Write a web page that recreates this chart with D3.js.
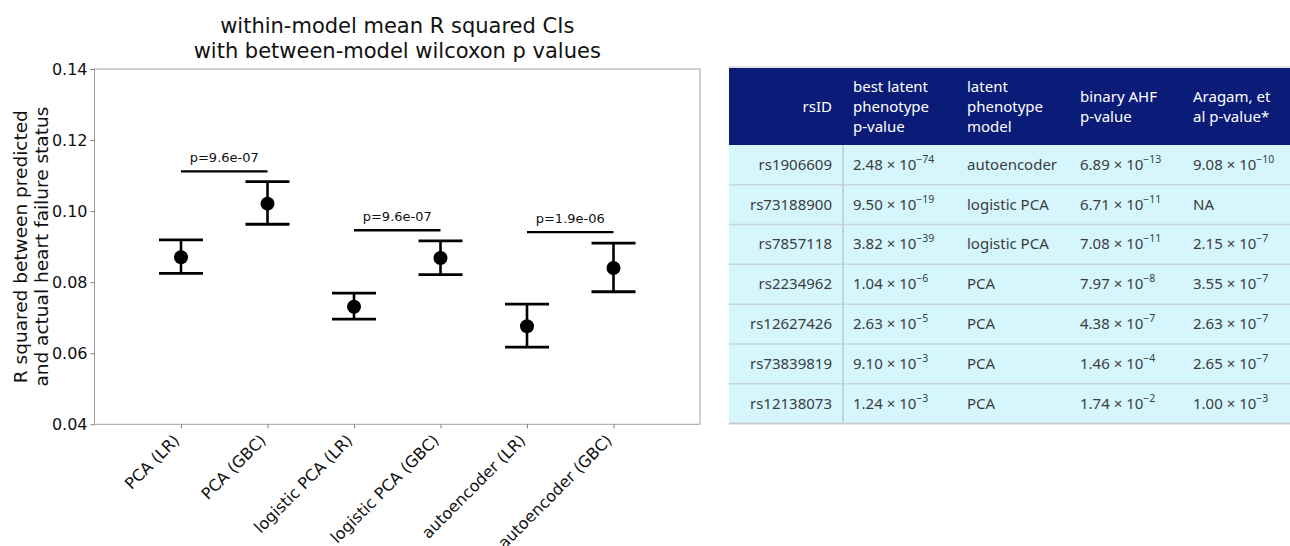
<!DOCTYPE html>
<html>
<head>
<meta charset="utf-8">
<script src="https://cdn.jsdelivr.net/npm/d3@7"></script>
<style>
  body { margin: 0; background: #fff; }
  text { font-family: 'DejaVu Sans', sans-serif; }
  .tbl text { font-family: 'Noto Sans', 'Open Sans', sans-serif; }
</style>
</head>
<body>
<div id="chart"></div>
<script>
var width = 1290
var height = 546

// error bar chart data
var categories = ['PCA (LR)', 'PCA (GBC)', 'logistic PCA (LR)', 'logistic PCA (GBC)', 'autoencoder (LR)', 'autoencoder (GBC)']
var means = [0.0870, 0.1021, 0.0731, 0.0868, 0.0676, 0.0840]
var ciLow = [0.0825, 0.0963, 0.0696, 0.0821, 0.0617, 0.0773]
var ciHigh = [0.0919, 0.1083, 0.0769, 0.0916, 0.0738, 0.0910]
var pairStart = [0, 2, 4]
var pairY = [0.1112, 0.0946, 0.0941]
var pairLabels = ['p=9.6e-07', 'p=9.6e-07', 'p=1.9e-06']
var yTicks = [0.04, 0.06, 0.08, 0.10, 0.12, 0.14]

// table data
var headers = [['rsID'], ['best latent', 'phenotype', 'p-value'], ['latent', 'phenotype', 'model'], ['binary AHF', 'p-value'], ['Aragam, et', 'al p-value*']]
var rsIDs = ['rs1906609', 'rs73188900', 'rs7857118', 'rs2234962', 'rs12627426', 'rs73839819', 'rs12138073']
var latentMant = ['2.48', '9.50', '3.82', '1.04', '2.63', '9.10', '1.24']
var latentExp = [-74, -19, -39, -6, -5, -3, -3]
var models = ['autoencoder', 'logistic PCA', 'logistic PCA', 'PCA', 'PCA', 'PCA', 'PCA']
var ahfMant = ['6.89', '6.71', '7.08', '7.97', '4.38', '1.46', '1.74']
var ahfExp = [-13, -11, -11, -8, -7, -4, -2]
var aragamMant = ['9.08', null, '2.15', '3.55', '2.63', '2.65', '1.00']
var aragamExp = [-10, null, -7, -7, -7, -7, -3]

var svg = d3.select('#chart')
  .append('svg')
  .attr('width', width)
  .attr('height', height)

// ---------- error bar plot ----------
var x = d3.scaleLinear().domain([-1, 6]).range([94.5, 700])
var y = d3.scaleLinear().domain([0.04, 0.14]).range([424.3, 69])

svg.append('rect')
  .attr('x', x(-1)).attr('y', y(0.14))
  .attr('width', x(6) - x(-1)).attr('height', y(0.04) - y(0.14))
  .attr('fill', 'none').attr('stroke', '#a0a0a0').attr('stroke-width', 1)

var yAxis = svg.append('g')
  .attr('transform', 'translate(' + x(-1) + ',0)')
  .call(d3.axisLeft(y).tickValues(yTicks).tickFormat(d3.format('.2f')).tickSize(4))
yAxis.select('.domain').remove()
yAxis.selectAll('line').attr('stroke', '#808080')
yAxis.selectAll('text').attr('font-size', 16).attr('fill', '#111').attr('font-family', 'DejaVu Sans')

var xAxis = svg.append('g')
  .attr('transform', 'translate(0,' + y(0.04) + ')')
  .call(d3.axisBottom(x).tickValues(d3.range(categories.length)).tickFormat(i => categories[i]).tickSize(4))
xAxis.select('.domain').remove()
xAxis.selectAll('line').attr('stroke', '#808080')
xAxis.selectAll('text')
  .attr('font-size', 16).attr('fill', '#111').attr('font-family', 'DejaVu Sans')
  .attr('text-anchor', 'end')
  .attr('y', 0).attr('dy', 0)
  .attr('transform', 'translate(-1,17) rotate(-45)')

// title, centred over the axes
var titleX = (x(-1) + x(6)) / 2
svg.append('text')
  .attr('x', titleX).attr('y', 33)
  .attr('text-anchor', 'middle').attr('font-size', 21).attr('fill', '#111')
  .text('within-model mean R squared CIs')
svg.append('text')
  .attr('x', titleX).attr('y', 58)
  .attr('text-anchor', 'middle').attr('font-size', 21).attr('fill', '#111')
  .text('with between-model wilcoxon p values')

// y label
var ylab = svg.append('text')
  .attr('transform', 'translate(27,' + ((y(0.04) + y(0.14)) / 2) + ') rotate(-90)')
  .attr('text-anchor', 'middle').attr('font-size', 18.5).attr('fill', '#111')
ylab.append('tspan').attr('x', 0).attr('dy', 0).text('R squared between predicted')
ylab.append('tspan').attr('x', 0).attr('dy', '1.15em').text('and actual heart failure status')

// error bars
var bars = svg.append('g').selectAll('g')
  .data(categories)
  .join('g')

bars.append('line')
  .attr('x1', (d, i) => x(i)).attr('x2', (d, i) => x(i))
  .attr('y1', (d, i) => y(ciLow[i])).attr('y2', (d, i) => y(ciHigh[i]))
  .attr('stroke', '#000').attr('stroke-width', 2.6)

bars.selectAll('.cap')
  .data((d, i) => [{ i: i, v: ciLow[i] }, { i: i, v: ciHigh[i] }])
  .join('line')
  .attr('class', 'cap')
  .attr('x1', d => x(d.i) - 22).attr('x2', d => x(d.i) + 22)
  .attr('y1', d => y(d.v)).attr('y2', d => y(d.v))
  .attr('stroke', '#000').attr('stroke-width', 2.8)

bars.append('circle')
  .attr('cx', (d, i) => x(i)).attr('cy', (d, i) => y(means[i]))
  .attr('r', 7).attr('fill', '#000')

// p-value brackets
var brackets = svg.append('g').selectAll('g')
  .data(pairStart)
  .join('g')

brackets.append('line')
  .attr('x1', d => x(d)).attr('x2', d => x(d + 1))
  .attr('y1', (d, i) => y(pairY[i])).attr('y2', (d, i) => y(pairY[i]))
  .attr('stroke', '#000').attr('stroke-width', 2.4)

brackets.append('text')
  .attr('x', d => (x(d) + x(d + 1)) / 2)
  .attr('y', (d, i) => y(pairY[i]) - 9)
  .attr('text-anchor', 'middle').attr('font-size', 13).attr('fill', '#111')
  .text((d, i) => pairLabels[i])

// ---------- table ----------
var tbl = svg.append('g').attr('class', 'tbl')
var tableX0 = 729, tableX1 = 1290
var headTop = 68, headBottom = 145
var colX = [832, 853, 967, 1080, 1193]

var rows = d3.scaleBand().domain(rsIDs).range([headBottom, 423.5])

tbl.append('rect')
  .attr('x', tableX0).attr('y', headTop)
  .attr('width', tableX1 - tableX0).attr('height', headBottom - headTop)
  .attr('fill', '#0b1b78')
tbl.append('line')
  .attr('x1', tableX0).attr('x2', tableX1).attr('y1', headTop - 1).attr('y2', headTop - 1)
  .attr('stroke', '#d8d8d8').attr('stroke-width', 1.5)

tbl.append('rect')
  .attr('x', tableX0).attr('y', headBottom)
  .attr('width', tableX1 - tableX0).attr('height', rows.range()[1] - headBottom)
  .attr('fill', '#d5f6fc')

tbl.selectAll('.sep')
  .data(rsIDs.slice(1))
  .join('line')
  .attr('class', 'sep')
  .attr('x1', tableX0).attr('x2', tableX1)
  .attr('y1', d => rows(d)).attr('y2', d => rows(d))
  .attr('stroke', '#c6d6da').attr('stroke-width', 1.5)

tbl.append('line')
  .attr('x1', tableX0).attr('x2', tableX1)
  .attr('y1', rows.range()[1]).attr('y2', rows.range()[1])
  .attr('stroke', '#c8cccd').attr('stroke-width', 2)

tbl.append('line')
  .attr('x1', 843).attr('x2', 843)
  .attr('y1', headBottom).attr('y2', rows.range()[1])
  .attr('stroke', '#c6d2d6').attr('stroke-width', 2)

// header text
var headMid = (headTop + headBottom) / 2
headers.forEach(function(lines, c) {
  var t = tbl.append('text')
    .attr('x', colX[c])
    .attr('y', headMid - (lines.length - 1) * 10 + 5)
    .attr('text-anchor', c === 0 ? 'end' : 'start')
    .attr('font-size', 15).attr('fill', '#fff')
  lines.forEach(function(l, k) {
    t.append('tspan').attr('x', colX[c]).attr('dy', k === 0 ? 0 : 20).text(l)
  })
})

function sci(sel, mant, exp) {
  if (mant === null) { sel.text('NA'); return }
  sel.append('tspan').text(mant + ' \u00d7 10')
  sel.append('tspan').attr('font-size', 10.5).attr('dy', -7).text('\u2212' + Math.abs(exp))
}

var cellY = d => rows(d) + rows.bandwidth() / 2 + 5
var cell = (c) => tbl.selectAll('.c' + c).data(rsIDs).join('text')
  .attr('class', 'c' + c)
  .attr('x', colX[c]).attr('y', cellY)
  .attr('font-size', 15).attr('fill', '#3c3c3c')

cell(0).attr('text-anchor', 'end').text(d => d)
cell(1).each(function(d, i) { sci(d3.select(this), latentMant[i], latentExp[i]) })
cell(2).text((d, i) => models[i])
cell(3).each(function(d, i) { sci(d3.select(this), ahfMant[i], ahfExp[i]) })
cell(4).each(function(d, i) { sci(d3.select(this), aragamMant[i], aragamExp[i]) })
</script>
</body>
</html>
